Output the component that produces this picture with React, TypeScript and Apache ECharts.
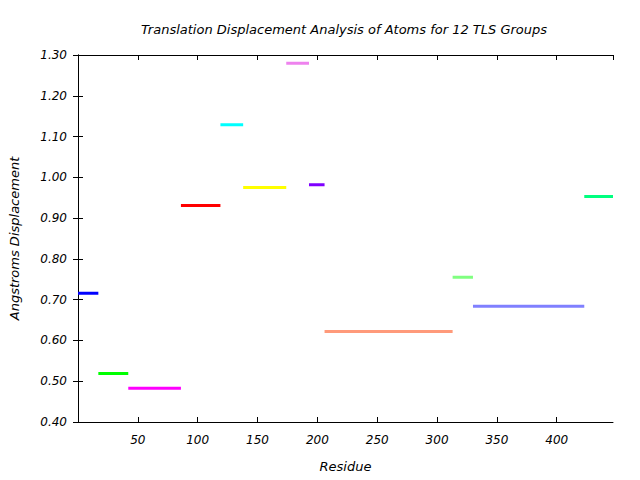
import React, { useEffect, useRef } from "react";
import * as echarts from "echarts";

const groupStarts = [0, 17, 42, 86, 119, 138, 174, 193, 206, 313, 330, 423];
const groupEnds = [17, 42, 86, 119, 138, 174, 193, 206, 313, 330, 423, 447];
const displacements = [0.716, 0.519, 0.483, 0.931, 1.129, 0.975, 1.28, 0.982, 0.622, 0.755, 0.684, 0.953];
const groupColors = [
  "#0000ff", "#00ff00", "#ff00ff", "#ff0000", "#00ffff", "#ffff00",
  "#ee82ee", "#7f00ff", "#ff9a7a", "#80ff80", "#8080ff", "#00ff7f",
];
const xTicks = [50, 100, 150, 200, 250, 300, 350, 400];

const FONT = "DejaVu Sans";

export default function App() {
  const ref = useRef<HTMLDivElement>(null);
  useEffect(() => {
    if (!ref.current) return;
    const chart = echarts.init(ref.current, undefined, { renderer: "svg" });
    const axisLine = { show: true, lineStyle: { color: "#000", width: 1 } };
    const tickStyle = { show: true, inside: true, length: 5, lineStyle: { color: "#000", width: 1 } };
    const labelStyle = { fontFamily: FONT, fontStyle: "italic" as const, fontSize: 12, color: "#000" };
    chart.setOption({
      animation: false,
      backgroundColor: "#fff",
      title: {
        text: "Translation Displacement Analysis of Atoms for 12 TLS Groups",
        left: 339,
        top: 18,
        textAlign: "center",
        textStyle: { ...labelStyle, fontWeight: "normal", fontSize: 13 },
      },
      grid: { left: 76, right: 27, top: 55, bottom: 58, containLabel: false },
      xAxis: [
        {
          type: "value",
          min: 0,
          max: 447,
          interval: 50,
          position: "bottom",
          name: "Residue",
          nameLocation: "middle",
          nameGap: 38,
          nameTextStyle: { ...labelStyle, fontSize: 13 },
          axisLine,
          axisTick: tickStyle,
          splitLine: { show: false },
          axisLabel: {
            ...labelStyle,
            margin: 12,
            showMaxLabel: false,
            formatter: (v: number) => (xTicks.includes(v) ? String(v) : ""),
          },
        },
        {
          type: "value",
          min: 0,
          max: 447,
          interval: 50,
          position: "top",
          axisLine,
          axisTick: tickStyle,
          splitLine: { show: false },
          axisLabel: { show: false },
        },
      ],
      yAxis: [
        {
          type: "value",
          min: 0.4,
          max: 1.3,
          interval: 0.1,
          position: "left",
          name: "Angstroms Displacement",
          nameLocation: "middle",
          nameGap: 57,
          nameRotate: 90,
          nameTextStyle: { ...labelStyle, fontSize: 13 },
          axisLine,
          axisTick: tickStyle,
          splitLine: { show: false },
          axisLabel: {
            ...labelStyle,
            margin: 11,
            formatter: (v: number) => v.toFixed(2),
          },
        },
        {
          type: "value",
          min: 0.4,
          max: 1.3,
          interval: 0.1,
          position: "right",
          axisLine,
          axisTick: tickStyle,
          splitLine: { show: false },
          axisLabel: { show: false },
        },
      ],
      series: displacements.map((d, i) => ({
        type: "line",
        xAxisIndex: 0,
        yAxisIndex: 0,
        showSymbol: false,
        symbol: "none",
        silent: true,
        lineStyle: { color: groupColors[i], width: 3, cap: "butt" },
        data: [
          [groupStarts[i], d],
          [groupEnds[i], d],
        ],
      })),
    });
    return () => chart.dispose();
  }, []);
  return (
    <div
      ref={ref}
      style={{ position: "absolute", left: 0, top: 0, width: 640, height: 480 }}
    />
  );
}
